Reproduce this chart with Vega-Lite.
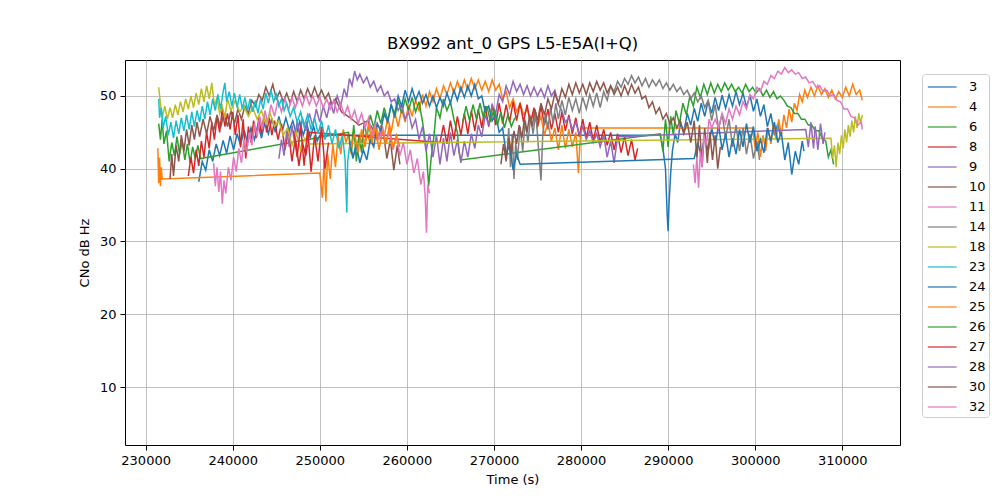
{
"$schema":"https://vega.github.io/schema/vega-lite/v6.json",
"width":775,"height":385,
"autosize":{"type":"none"},
"padding":{"left":125,"top":60,"right":100,"bottom":55},
"background":"white",
"title":{"text":"BX992 ant_0 GPS L5-E5A(I+Q)","font":"DejaVu Sans","fontSize":16.5,"fontWeight":"normal","color":"black","offset":8},
"data":{"values":[
{"s":3,"t":236100,"v":38.2},{"s":3,"t":236500,"v":41.0},{"s":3,"t":236900,"v":39.8},{"s":3,"t":237300,"v":42.6},{"s":3,"t":237700,"v":41.0},{"s":3,"t":238100,"v":43.4},{"s":3,"t":238500,"v":41.8},{"s":3,"t":238900,"v":43.9},{"s":3,"t":239300,"v":42.1},{"s":3,"t":239700,"v":44.5},{"s":3,"t":240100,"v":42.6},{"s":3,"t":240500,"v":44.8},{"s":3,"t":240900,"v":43.2},{"s":3,"t":241300,"v":45.3},{"s":3,"t":241700,"v":43.6},{"s":3,"t":242100,"v":45.6},{"s":3,"t":242500,"v":44.0},{"s":3,"t":242900,"v":46.1},{"s":3,"t":243300,"v":44.2},{"s":3,"t":243700,"v":46.4},{"s":3,"t":244100,"v":44.8},{"s":3,"t":244500,"v":46.9},{"s":3,"t":244900,"v":45.0},{"s":3,"t":245300,"v":47.2},{"s":3,"t":245700,"v":45.2},{"s":3,"t":246100,"v":47.0},{"s":3,"t":246500,"v":45.3},{"s":3,"t":246900,"v":46.6},{"s":3,"t":247300,"v":44.7},{"s":3,"t":247700,"v":46.5},{"s":3,"t":248100,"v":44.6},{"s":3,"t":248500,"v":46.2},{"s":3,"t":248900,"v":44.3},{"s":3,"t":249300,"v":45.8},{"s":3,"t":249700,"v":43.8},{"s":3,"t":250000,"v":44.6},
{"s":3,"t":289100,"v":44.6},{"s":3,"t":289400,"v":42.8},{"s":3,"t":289700,"v":40.0},{"s":3,"t":289900,"v":33.5},{"s":3,"t":290000,"v":31.4},{"s":3,"t":290100,"v":35.0},{"s":3,"t":290300,"v":39.5},{"s":3,"t":290500,"v":42.5},{"s":3,"t":290800,"v":44.8},{"s":3,"t":291100,"v":43.6},{"s":3,"t":291400,"v":46.2},{"s":3,"t":291800,"v":45.0},{"s":3,"t":292200,"v":47.6},{"s":3,"t":292600,"v":46.0},{"s":3,"t":293000,"v":48.3},{"s":3,"t":293400,"v":46.5},{"s":3,"t":293800,"v":49.0},{"s":3,"t":294200,"v":47.2},{"s":3,"t":294600,"v":49.3},{"s":3,"t":295000,"v":47.6},{"s":3,"t":295400,"v":49.8},{"s":3,"t":295800,"v":48.0},{"s":3,"t":296200,"v":50.1},{"s":3,"t":296600,"v":48.3},{"s":3,"t":297000,"v":50.2},{"s":3,"t":297400,"v":48.6},{"s":3,"t":297800,"v":50.6},{"s":3,"t":298200,"v":48.8},{"s":3,"t":298600,"v":50.4},{"s":3,"t":299000,"v":48.5},{"s":3,"t":299400,"v":50.1},{"s":3,"t":299800,"v":47.9},{"s":3,"t":300200,"v":49.6},{"s":3,"t":300600,"v":47.2},{"s":3,"t":301000,"v":48.8},{"s":3,"t":301400,"v":45.8},{"s":3,"t":301800,"v":47.6},{"s":3,"t":302200,"v":44.6},{"s":3,"t":302600,"v":46.2},{"s":3,"t":302900,"v":44.5},
{"s":4,"t":231400,"v":42.8},{"s":4,"t":231500,"v":38.0},{"s":4,"t":231600,"v":41.5},{"s":4,"t":231700,"v":37.6},{"s":4,"t":231800,"v":40.2},{"s":4,"t":231900,"v":38.6},
{"s":4,"t":250000,"v":39.4},{"s":4,"t":250300,"v":36.0},{"s":4,"t":250500,"v":41.2},{"s":4,"t":250700,"v":35.5},{"s":4,"t":250900,"v":42.0},{"s":4,"t":251200,"v":38.6},{"s":4,"t":251500,"v":43.4},{"s":4,"t":251800,"v":40.2},{"s":4,"t":252100,"v":44.6},{"s":4,"t":252400,"v":42.0},{"s":4,"t":252700,"v":45.4},{"s":4,"t":253000,"v":43.6},{"s":4,"t":253300,"v":44.8},{"s":4,"t":253600,"v":42.0},{"s":4,"t":253900,"v":45.2},{"s":4,"t":254200,"v":43.0},{"s":4,"t":254600,"v":44.6},{"s":4,"t":255000,"v":42.8},{"s":4,"t":255400,"v":45.0},{"s":4,"t":255800,"v":43.4},{"s":4,"t":256200,"v":45.6},{"s":4,"t":256600,"v":43.8},{"s":4,"t":257000,"v":46.0},{"s":4,"t":257400,"v":44.4},{"s":4,"t":257800,"v":47.0},{"s":4,"t":258200,"v":45.0},{"s":4,"t":258600,"v":47.8},{"s":4,"t":259000,"v":45.8},{"s":4,"t":259400,"v":48.2},{"s":4,"t":259800,"v":46.4},{"s":4,"t":260200,"v":48.8},{"s":4,"t":260600,"v":47.2},{"s":4,"t":261000,"v":49.4},{"s":4,"t":261400,"v":48.0},{"s":4,"t":261800,"v":50.2},{"s":4,"t":262200,"v":48.6},{"s":4,"t":262600,"v":50.6},{"s":4,"t":263000,"v":49.2},{"s":4,"t":263400,"v":51.0},{"s":4,"t":263800,"v":49.6},{"s":4,"t":264200,"v":51.4},{"s":4,"t":264600,"v":50.2},{"s":4,"t":265000,"v":51.8},{"s":4,"t":265400,"v":50.4},{"s":4,"t":265800,"v":52.0},{"s":4,"t":266200,"v":50.6},{"s":4,"t":266600,"v":52.2},{"s":4,"t":267000,"v":50.8},{"s":4,"t":267400,"v":52.4},{"s":4,"t":267800,"v":51.0},{"s":4,"t":268200,"v":52.2},{"s":4,"t":268600,"v":50.8},{"s":4,"t":269000,"v":52.0},{"s":4,"t":269400,"v":50.6},{"s":4,"t":269800,"v":52.2},{"s":4,"t":270200,"v":50.8},{"s":4,"t":270600,"v":51.6},{"s":4,"t":271000,"v":49.6},{"s":4,"t":271400,"v":50.6},{"s":4,"t":271800,"v":48.4},{"s":4,"t":272200,"v":49.6},{"s":4,"t":272600,"v":47.8},{"s":4,"t":273000,"v":49.0},{"s":4,"t":273400,"v":47.4},{"s":4,"t":273800,"v":48.2},{"s":4,"t":274200,"v":46.6},{"s":4,"t":274600,"v":48.0},{"s":4,"t":275000,"v":45.8},{"s":4,"t":275400,"v":47.2},{"s":4,"t":275800,"v":44.6},{"s":4,"t":276200,"v":46.4},{"s":4,"t":276600,"v":43.8},{"s":4,"t":277000,"v":45.6},{"s":4,"t":277400,"v":42.6},{"s":4,"t":277800,"v":46.0},{"s":4,"t":278200,"v":42.8},{"s":4,"t":278600,"v":45.4},{"s":4,"t":279000,"v":43.0},{"s":4,"t":279400,"v":45.0},{"s":4,"t":279700,"v":39.4},{"s":4,"t":279900,"v":44.0},{"s":4,"t":280100,"v":45.6},
{"s":4,"t":299700,"v":45.6},{"s":4,"t":300000,"v":42.8},{"s":4,"t":300300,"v":45.0},{"s":4,"t":300600,"v":41.6},{"s":4,"t":300900,"v":44.6},{"s":4,"t":301200,"v":42.4},{"s":4,"t":301500,"v":45.6},{"s":4,"t":301800,"v":43.4},{"s":4,"t":302100,"v":46.2},{"s":4,"t":302400,"v":44.0},{"s":4,"t":302700,"v":46.8},{"s":4,"t":303000,"v":44.6},{"s":4,"t":303300,"v":47.4},{"s":4,"t":303600,"v":45.6},{"s":4,"t":303900,"v":48.2},{"s":4,"t":304200,"v":46.4},{"s":4,"t":304500,"v":49.0},{"s":4,"t":304800,"v":48.0},{"s":4,"t":305100,"v":50.2},{"s":4,"t":305400,"v":49.2},{"s":4,"t":305700,"v":50.8},{"s":4,"t":306000,"v":49.8},{"s":4,"t":306400,"v":51.2},{"s":4,"t":306800,"v":50.0},{"s":4,"t":307200,"v":51.4},{"s":4,"t":307600,"v":50.2},{"s":4,"t":308000,"v":51.0},{"s":4,"t":308400,"v":49.8},{"s":4,"t":308800,"v":50.8},{"s":4,"t":309200,"v":49.6},{"s":4,"t":309600,"v":50.6},{"s":4,"t":310000,"v":49.8},{"s":4,"t":310400,"v":51.2},{"s":4,"t":310800,"v":50.0},{"s":4,"t":311200,"v":51.6},{"s":4,"t":311600,"v":50.2},{"s":4,"t":312000,"v":50.8},{"s":4,"t":312300,"v":49.4},
{"s":6,"t":231500,"v":46.2},{"s":6,"t":231700,"v":44.0},{"s":6,"t":231900,"v":46.8},{"s":6,"t":232100,"v":43.4},{"s":6,"t":232400,"v":45.2},{"s":6,"t":232700,"v":41.0},{"s":6,"t":233000,"v":43.6},{"s":6,"t":233300,"v":41.8},{"s":6,"t":233600,"v":44.4},{"s":6,"t":233900,"v":42.0},{"s":6,"t":234200,"v":43.8},{"s":6,"t":234500,"v":41.2},{"s":6,"t":234800,"v":43.4},{"s":6,"t":235100,"v":40.8},{"s":6,"t":235400,"v":43.0},{"s":6,"t":235700,"v":41.4},{"s":6,"t":236000,"v":43.2},{"s":6,"t":236300,"v":41.4},
{"s":6,"t":253300,"v":45.0},{"s":6,"t":253600,"v":42.4},{"s":6,"t":253900,"v":46.0},{"s":6,"t":254200,"v":41.0},{"s":6,"t":254500,"v":44.6},{"s":6,"t":254800,"v":42.2},{"s":6,"t":255100,"v":46.6},{"s":6,"t":255400,"v":44.2},{"s":6,"t":255800,"v":47.4},{"s":6,"t":256200,"v":45.6},{"s":6,"t":256600,"v":48.0},{"s":6,"t":257000,"v":46.2},{"s":6,"t":257400,"v":48.4},{"s":6,"t":257800,"v":46.6},{"s":6,"t":258200,"v":48.8},{"s":6,"t":258600,"v":47.0},{"s":6,"t":259000,"v":49.4},{"s":6,"t":259400,"v":47.6},{"s":6,"t":259800,"v":49.6},{"s":6,"t":260200,"v":48.0},{"s":6,"t":260600,"v":49.8},{"s":6,"t":261000,"v":47.8},{"s":6,"t":261400,"v":49.2},{"s":6,"t":261800,"v":46.4},{"s":6,"t":262200,"v":43.0},{"s":6,"t":262500,"v":37.6},{"s":6,"t":262800,"v":41.6},{"s":6,"t":263100,"v":44.4},{"s":6,"t":263400,"v":48.4},{"s":6,"t":263800,"v":47.0},{"s":6,"t":264200,"v":49.6},{"s":6,"t":264600,"v":48.0},{"s":6,"t":265000,"v":49.2},{"s":6,"t":265400,"v":46.8},{"s":6,"t":265800,"v":45.0},{"s":6,"t":266000,"v":42.2},{"s":6,"t":266200,"v":41.2},
{"s":6,"t":289100,"v":44.8},{"s":6,"t":289400,"v":42.4},{"s":6,"t":289700,"v":46.8},{"s":6,"t":290000,"v":43.0},{"s":6,"t":290300,"v":47.2},{"s":6,"t":290600,"v":44.6},{"s":6,"t":290900,"v":48.0},{"s":6,"t":291300,"v":46.2},{"s":6,"t":291700,"v":49.0},{"s":6,"t":292100,"v":47.4},{"s":6,"t":292500,"v":50.0},{"s":6,"t":292900,"v":48.6},{"s":6,"t":293300,"v":51.2},{"s":6,"t":293700,"v":49.8},{"s":6,"t":294100,"v":51.6},{"s":6,"t":294500,"v":50.2},{"s":6,"t":294900,"v":51.8},{"s":6,"t":295300,"v":50.4},{"s":6,"t":295700,"v":51.6},{"s":6,"t":296100,"v":50.6},{"s":6,"t":296500,"v":51.8},{"s":6,"t":296900,"v":50.8},{"s":6,"t":297300,"v":51.6},{"s":6,"t":297700,"v":50.6},{"s":6,"t":298100,"v":51.2},{"s":6,"t":298500,"v":50.4},{"s":6,"t":298900,"v":51.6},{"s":6,"t":299300,"v":50.6},{"s":6,"t":299700,"v":51.2},{"s":6,"t":300100,"v":50.4},{"s":6,"t":300500,"v":51.0},{"s":6,"t":300900,"v":50.0},{"s":6,"t":301300,"v":50.8},{"s":6,"t":301700,"v":49.8},{"s":6,"t":302100,"v":50.6},{"s":6,"t":302500,"v":49.6},{"s":6,"t":302900,"v":50.0},{"s":6,"t":303300,"v":49.4},{"s":6,"t":303700,"v":48.6},{"s":6,"t":304100,"v":48.4},{"s":6,"t":304500,"v":47.6},{"s":6,"t":304900,"v":47.6},{"s":6,"t":305300,"v":46.8},{"s":6,"t":305700,"v":46.8},{"s":6,"t":306100,"v":46.0},{"s":6,"t":306500,"v":46.0},{"s":6,"t":306900,"v":45.2},{"s":6,"t":307300,"v":45.2},{"s":6,"t":307700,"v":44.2},{"s":6,"t":308100,"v":43.8},{"s":6,"t":308400,"v":41.6},{"s":6,"t":308700,"v":42.6},{"s":6,"t":309000,"v":40.6},
{"s":8,"t":234900,"v":39.0},{"s":8,"t":235200,"v":41.6},{"s":8,"t":235500,"v":39.4},{"s":8,"t":235800,"v":42.6},{"s":8,"t":236100,"v":40.4},{"s":8,"t":236400,"v":43.8},{"s":8,"t":236700,"v":41.6},{"s":8,"t":237000,"v":45.0},{"s":8,"t":237300,"v":42.8},{"s":8,"t":237600,"v":46.4},{"s":8,"t":237900,"v":44.0},{"s":8,"t":238200,"v":47.2},{"s":8,"t":238500,"v":45.0},{"s":8,"t":238800,"v":48.2},{"s":8,"t":239100,"v":45.8},{"s":8,"t":239400,"v":47.6},{"s":8,"t":239700,"v":45.4},{"s":8,"t":240000,"v":47.8},{"s":8,"t":240300,"v":44.6},{"s":8,"t":240600,"v":47.4},{"s":8,"t":240900,"v":43.0},{"s":8,"t":241200,"v":46.8},{"s":8,"t":241500,"v":41.4},{"s":8,"t":241800,"v":45.8},{"s":8,"t":242100,"v":43.6},{"s":8,"t":242400,"v":46.6},{"s":8,"t":242700,"v":44.2},{"s":8,"t":243000,"v":47.0},{"s":8,"t":243300,"v":44.8},{"s":8,"t":243600,"v":47.4},{"s":8,"t":243900,"v":45.0},{"s":8,"t":244200,"v":47.0},{"s":8,"t":244500,"v":44.6},{"s":8,"t":244800,"v":46.6},{"s":8,"t":245200,"v":44.0},{"s":8,"t":245600,"v":46.2},{"s":8,"t":246000,"v":42.6},{"s":8,"t":246400,"v":45.4},{"s":8,"t":246800,"v":41.0},{"s":8,"t":247200,"v":44.2},{"s":8,"t":247600,"v":40.4},{"s":8,"t":248000,"v":43.6},{"s":8,"t":248400,"v":41.8},{"s":8,"t":248800,"v":45.0},
{"s":8,"t":263800,"v":43.6},{"s":8,"t":264200,"v":46.0},{"s":8,"t":264600,"v":43.4},{"s":8,"t":265000,"v":46.6},{"s":8,"t":265400,"v":44.0},{"s":8,"t":265800,"v":47.2},{"s":8,"t":266200,"v":44.6},{"s":8,"t":266600,"v":47.6},{"s":8,"t":267000,"v":44.8},{"s":8,"t":267400,"v":48.0},{"s":8,"t":267800,"v":45.2},{"s":8,"t":268200,"v":48.2},{"s":8,"t":268600,"v":45.6},{"s":8,"t":269000,"v":48.6},{"s":8,"t":269400,"v":45.8},{"s":8,"t":269800,"v":48.8},{"s":8,"t":270200,"v":46.0},{"s":8,"t":270600,"v":49.0},{"s":8,"t":271000,"v":46.2},{"s":8,"t":271400,"v":48.8},{"s":8,"t":271800,"v":46.4},{"s":8,"t":272200,"v":49.2},{"s":8,"t":272600,"v":46.6},{"s":8,"t":273000,"v":49.0},{"s":8,"t":273400,"v":46.4},{"s":8,"t":273800,"v":48.8},{"s":8,"t":274200,"v":46.2},{"s":8,"t":274600,"v":48.4},{"s":8,"t":275000,"v":45.8},{"s":8,"t":275400,"v":48.6},{"s":8,"t":275800,"v":46.0},{"s":8,"t":276200,"v":48.2},{"s":8,"t":276600,"v":45.4},{"s":8,"t":277000,"v":47.6},{"s":8,"t":277400,"v":45.0},{"s":8,"t":277800,"v":47.8},{"s":8,"t":278200,"v":45.2},{"s":8,"t":278600,"v":47.4},{"s":8,"t":279000,"v":44.8},{"s":8,"t":279400,"v":47.0},{"s":8,"t":279800,"v":44.4},{"s":8,"t":280200,"v":46.8},{"s":8,"t":280600,"v":44.2},{"s":8,"t":281000,"v":46.4},{"s":8,"t":281400,"v":43.8},{"s":8,"t":281800,"v":46.0},{"s":8,"t":282200,"v":43.6},{"s":8,"t":282600,"v":45.4},{"s":8,"t":283000,"v":43.2},{"s":8,"t":283400,"v":45.0},{"s":8,"t":283800,"v":42.6},{"s":8,"t":284200,"v":44.8},{"s":8,"t":284600,"v":42.2},{"s":8,"t":285000,"v":44.4},{"s":8,"t":285400,"v":41.8},{"s":8,"t":285800,"v":44.0},{"s":8,"t":286200,"v":41.2},{"s":8,"t":286500,"v":42.8},
{"s":9,"t":245300,"v":41.4},{"s":9,"t":245600,"v":44.0},{"s":9,"t":245900,"v":41.8},{"s":9,"t":246200,"v":45.2},{"s":9,"t":246500,"v":43.0},{"s":9,"t":246800,"v":46.0},{"s":9,"t":247100,"v":43.6},{"s":9,"t":247400,"v":46.6},{"s":9,"t":247700,"v":44.4},{"s":9,"t":248000,"v":47.0},{"s":9,"t":248400,"v":45.2},{"s":9,"t":248800,"v":47.6},{"s":9,"t":249200,"v":45.8},{"s":9,"t":249600,"v":48.2},{"s":9,"t":250000,"v":46.4},{"s":9,"t":250400,"v":48.6},{"s":9,"t":250800,"v":47.0},{"s":9,"t":251200,"v":49.2},{"s":9,"t":251600,"v":47.6},{"s":9,"t":252000,"v":50.0},{"s":9,"t":252400,"v":48.6},{"s":9,"t":252800,"v":51.0},{"s":9,"t":253100,"v":49.8},{"s":9,"t":253400,"v":52.4},{"s":9,"t":253700,"v":51.4},{"s":9,"t":254000,"v":53.4},{"s":9,"t":254300,"v":52.2},{"s":9,"t":254600,"v":53.0},{"s":9,"t":255000,"v":51.8},{"s":9,"t":255400,"v":52.6},{"s":9,"t":255800,"v":51.2},{"s":9,"t":256200,"v":52.0},{"s":9,"t":256600,"v":50.6},{"s":9,"t":257000,"v":51.4},{"s":9,"t":257400,"v":50.0},{"s":9,"t":257800,"v":50.6},{"s":9,"t":258200,"v":49.2},{"s":9,"t":258600,"v":49.6},{"s":9,"t":259000,"v":48.0},{"s":9,"t":259400,"v":48.8},{"s":9,"t":259800,"v":46.8},{"s":9,"t":260200,"v":47.8},{"s":9,"t":260600,"v":45.6},{"s":9,"t":261000,"v":46.8},{"s":9,"t":261400,"v":44.0},{"s":9,"t":261800,"v":45.8},{"s":9,"t":262200,"v":42.4},{"s":9,"t":262600,"v":44.8},{"s":9,"t":263000,"v":41.6},{"s":9,"t":263400,"v":44.6},{"s":9,"t":263800,"v":40.6},{"s":9,"t":264200,"v":44.2},{"s":9,"t":264600,"v":41.0},{"s":9,"t":265000,"v":45.0},{"s":9,"t":265400,"v":41.8},{"s":9,"t":265800,"v":44.0},{"s":9,"t":266200,"v":40.8},{"s":9,"t":266600,"v":43.8},{"s":9,"t":267000,"v":41.6},{"s":9,"t":267400,"v":44.8},{"s":9,"t":267800,"v":42.8},{"s":9,"t":268200,"v":46.0},{"s":9,"t":268600,"v":44.4},{"s":9,"t":269000,"v":47.4},{"s":9,"t":269400,"v":46.0},{"s":9,"t":269800,"v":48.8},{"s":9,"t":270200,"v":47.6},{"s":9,"t":270600,"v":50.2},{"s":9,"t":271000,"v":49.2},{"s":9,"t":271400,"v":51.4},{"s":9,"t":271800,"v":50.2},{"s":9,"t":272200,"v":52.0},{"s":9,"t":272600,"v":50.6},{"s":9,"t":273000,"v":51.6},{"s":9,"t":273400,"v":50.2},{"s":9,"t":273800,"v":51.4},{"s":9,"t":274200,"v":50.0},{"s":9,"t":274600,"v":51.2},{"s":9,"t":275000,"v":50.0},{"s":9,"t":275400,"v":51.0},{"s":9,"t":275800,"v":49.8},{"s":9,"t":276200,"v":51.4},{"s":9,"t":276600,"v":50.0},{"s":9,"t":277000,"v":50.8},{"s":9,"t":277400,"v":48.8},{"s":9,"t":277800,"v":48.0},{"s":9,"t":278200,"v":46.4},{"s":9,"t":278600,"v":47.0},{"s":9,"t":279000,"v":45.4},{"s":9,"t":279400,"v":46.4},{"s":9,"t":279800,"v":44.6},{"s":9,"t":280200,"v":45.8},{"s":9,"t":280600,"v":44.0},{"s":9,"t":281000,"v":45.2},{"s":9,"t":281400,"v":43.6},{"s":9,"t":281800,"v":44.8},{"s":9,"t":282200,"v":43.0},{"s":9,"t":282600,"v":44.6},{"s":9,"t":283000,"v":41.6},{"s":9,"t":283400,"v":43.8},{"s":9,"t":283800,"v":40.8},{"s":9,"t":284200,"v":44.4},
{"s":9,"t":305800,"v":45.4},{"s":9,"t":306100,"v":43.0},{"s":9,"t":306400,"v":46.4},{"s":9,"t":306700,"v":42.8},{"s":9,"t":306900,"v":45.8},
{"s":10,"t":232800,"v":38.6},{"s":10,"t":233000,"v":42.0},{"s":10,"t":233200,"v":39.0},{"s":10,"t":233500,"v":43.2},{"s":10,"t":233800,"v":41.0},{"s":10,"t":234100,"v":44.6},{"s":10,"t":234400,"v":42.4},{"s":10,"t":234700,"v":45.4},{"s":10,"t":235000,"v":43.2},{"s":10,"t":235300,"v":46.0},{"s":10,"t":235600,"v":44.0},{"s":10,"t":235900,"v":46.4},{"s":10,"t":236200,"v":44.4},{"s":10,"t":236600,"v":46.8},{"s":10,"t":237000,"v":44.8},{"s":10,"t":237400,"v":47.2},{"s":10,"t":237800,"v":45.2},{"s":10,"t":238200,"v":47.4},{"s":10,"t":238600,"v":45.6},{"s":10,"t":239000,"v":47.6},{"s":10,"t":239400,"v":45.8},{"s":10,"t":239800,"v":48.0},{"s":10,"t":240200,"v":46.2},{"s":10,"t":240600,"v":48.2},{"s":10,"t":241000,"v":46.8},{"s":10,"t":241400,"v":48.6},{"s":10,"t":241800,"v":47.6},{"s":10,"t":242200,"v":49.4},{"s":10,"t":242600,"v":48.6},{"s":10,"t":243000,"v":50.2},{"s":10,"t":243400,"v":49.4},{"s":10,"t":243800,"v":51.2},{"s":10,"t":244200,"v":50.0},{"s":10,"t":244600,"v":51.6},{"s":10,"t":245000,"v":49.6},{"s":10,"t":245400,"v":50.6},{"s":10,"t":245800,"v":49.2},{"s":10,"t":246200,"v":50.4},{"s":10,"t":246600,"v":49.0},{"s":10,"t":247000,"v":50.6},{"s":10,"t":247400,"v":49.2},{"s":10,"t":247800,"v":50.8},{"s":10,"t":248200,"v":49.6},{"s":10,"t":248600,"v":51.0},{"s":10,"t":249000,"v":49.8},{"s":10,"t":249400,"v":51.2},{"s":10,"t":249800,"v":49.8},{"s":10,"t":250200,"v":50.8},{"s":10,"t":250600,"v":49.6},{"s":10,"t":251000,"v":50.4},{"s":10,"t":251400,"v":48.8},{"s":10,"t":251800,"v":49.6},{"s":10,"t":252500,"v":47.8},{"s":10,"t":253500,"v":47.0},{"s":10,"t":254500,"v":46.0},{"s":10,"t":255500,"v":46.6},{"s":10,"t":256500,"v":44.6},{"s":10,"t":257300,"v":45.0},{"s":10,"t":257700,"v":41.4},{"s":10,"t":258100,"v":44.0},{"s":10,"t":258500,"v":39.8},{"s":10,"t":258900,"v":43.2},{"s":10,"t":259200,"v":40.6},
{"s":11,"t":237800,"v":40.8},{"s":11,"t":238000,"v":37.6},{"s":11,"t":238200,"v":40.2},{"s":11,"t":238400,"v":36.8},{"s":11,"t":238600,"v":39.6},{"s":11,"t":238800,"v":35.2},{"s":11,"t":239000,"v":38.4},{"s":11,"t":239200,"v":36.6},{"s":11,"t":239500,"v":40.2},{"s":11,"t":239800,"v":38.4},{"s":11,"t":240100,"v":41.6},{"s":11,"t":240400,"v":39.6},{"s":11,"t":240700,"v":42.8},{"s":11,"t":241000,"v":40.8},{"s":11,"t":241300,"v":44.0},{"s":11,"t":241600,"v":42.2},{"s":11,"t":241900,"v":45.0},{"s":11,"t":242200,"v":43.2},{"s":11,"t":242500,"v":46.2},{"s":11,"t":242800,"v":44.4},{"s":11,"t":243100,"v":47.2},{"s":11,"t":243400,"v":45.4},{"s":11,"t":243700,"v":48.0},{"s":11,"t":244000,"v":46.4},{"s":11,"t":244400,"v":48.8},{"s":11,"t":244800,"v":47.2},{"s":11,"t":245200,"v":49.4},{"s":11,"t":245600,"v":47.8},{"s":11,"t":246000,"v":49.6},{"s":11,"t":246400,"v":48.0},{"s":11,"t":246800,"v":49.8},{"s":11,"t":247200,"v":48.4},{"s":11,"t":247600,"v":50.0},{"s":11,"t":248000,"v":48.6},{"s":11,"t":248400,"v":50.2},{"s":11,"t":248800,"v":48.8},{"s":11,"t":249200,"v":50.0},{"s":11,"t":249600,"v":48.6},{"s":11,"t":250000,"v":49.8},{"s":11,"t":250400,"v":48.4},{"s":11,"t":250800,"v":49.6},{"s":11,"t":251200,"v":48.2},{"s":11,"t":251600,"v":49.4},{"s":11,"t":252000,"v":47.8},{"s":11,"t":252400,"v":49.0},{"s":11,"t":252800,"v":47.4},{"s":11,"t":253200,"v":48.6},{"s":11,"t":253600,"v":46.8},{"s":11,"t":254000,"v":48.0},{"s":11,"t":254400,"v":46.2},{"s":11,"t":254800,"v":47.6},{"s":11,"t":255200,"v":45.6},{"s":11,"t":255600,"v":47.0},{"s":11,"t":256000,"v":44.6},{"s":11,"t":256400,"v":46.4},{"s":11,"t":256800,"v":44.0},{"s":11,"t":257200,"v":45.8},{"s":11,"t":257600,"v":43.4},{"s":11,"t":258000,"v":45.2},{"s":11,"t":258400,"v":42.6},{"s":11,"t":258800,"v":44.4},{"s":11,"t":259200,"v":41.8},{"s":11,"t":259600,"v":43.6},{"s":11,"t":260000,"v":40.6},{"s":11,"t":260400,"v":42.6},{"s":11,"t":260800,"v":39.4},{"s":11,"t":261200,"v":41.4},{"s":11,"t":261600,"v":37.8},{"s":11,"t":261900,"v":39.6},{"s":11,"t":262100,"v":36.2},{"s":11,"t":262250,"v":31.2},{"s":11,"t":262400,"v":37.8},{"s":11,"t":262600,"v":36.6},
{"s":14,"t":271500,"v":42.0},{"s":14,"t":271700,"v":45.6},{"s":14,"t":271900,"v":40.2},{"s":14,"t":272100,"v":44.8},{"s":14,"t":272300,"v":38.6},{"s":14,"t":272500,"v":43.6},{"s":14,"t":272700,"v":41.2},{"s":14,"t":273000,"v":45.8},{"s":14,"t":273300,"v":42.4},{"s":14,"t":273600,"v":46.6},{"s":14,"t":273900,"v":43.6},{"s":14,"t":274200,"v":47.0},{"s":14,"t":274500,"v":44.8},{"s":14,"t":274800,"v":47.8},{"s":14,"t":275100,"v":43.0},{"s":14,"t":275400,"v":38.4},{"s":14,"t":275600,"v":44.6},{"s":14,"t":275900,"v":47.6},{"s":14,"t":276200,"v":45.4},{"s":14,"t":276500,"v":48.4},{"s":14,"t":276800,"v":46.2},{"s":14,"t":277100,"v":49.0},{"s":14,"t":277400,"v":46.8},{"s":14,"t":277800,"v":49.4},{"s":14,"t":278200,"v":47.4},{"s":14,"t":278600,"v":49.8},{"s":14,"t":279000,"v":48.0},{"s":14,"t":279400,"v":49.6},{"s":14,"t":279800,"v":47.6},{"s":14,"t":280200,"v":49.8},{"s":14,"t":280600,"v":48.2},{"s":14,"t":281000,"v":50.2},{"s":14,"t":281400,"v":48.6},{"s":14,"t":281800,"v":50.4},{"s":14,"t":282200,"v":48.4},{"s":14,"t":282600,"v":50.6},{"s":14,"t":283000,"v":49.4},{"s":14,"t":283400,"v":51.4},{"s":14,"t":283800,"v":50.6},{"s":14,"t":284200,"v":52.0},{"s":14,"t":284600,"v":51.2},{"s":14,"t":285000,"v":52.4},{"s":14,"t":285400,"v":51.6},{"s":14,"t":285800,"v":52.8},{"s":14,"t":286200,"v":51.8},{"s":14,"t":286600,"v":52.6},{"s":14,"t":287000,"v":51.4},{"s":14,"t":287400,"v":52.4},{"s":14,"t":287800,"v":51.2},{"s":14,"t":288200,"v":52.2},{"s":14,"t":288600,"v":51.4},{"s":14,"t":289000,"v":52.2},{"s":14,"t":289400,"v":51.0},{"s":14,"t":289800,"v":51.8},{"s":14,"t":290200,"v":50.8},{"s":14,"t":290600,"v":51.6},{"s":14,"t":291000,"v":50.6},{"s":14,"t":291400,"v":51.2},{"s":14,"t":291800,"v":50.2},{"s":14,"t":292200,"v":50.8},{"s":14,"t":292600,"v":49.6},{"s":14,"t":293000,"v":50.4},{"s":14,"t":293400,"v":49.2},{"s":14,"t":293800,"v":50.0},{"s":14,"t":294200,"v":48.4},{"s":14,"t":294600,"v":49.4},{"s":14,"t":295000,"v":46.6},{"s":14,"t":295400,"v":48.8},{"s":14,"t":295800,"v":45.4},{"s":14,"t":296200,"v":47.6},{"s":14,"t":296600,"v":44.2},{"s":14,"t":297000,"v":46.8},{"s":14,"t":297400,"v":43.0},{"s":14,"t":297800,"v":46.0},{"s":14,"t":298200,"v":42.4},{"s":14,"t":298600,"v":45.6},{"s":14,"t":299000,"v":42.0},{"s":14,"t":299400,"v":44.8},{"s":14,"t":299800,"v":41.4},{"s":14,"t":300200,"v":43.8},{"s":14,"t":300500,"v":41.2},
{"s":18,"t":231500,"v":51.2},{"s":18,"t":231700,"v":49.0},{"s":18,"t":231900,"v":47.0},{"s":18,"t":232200,"v":48.6},{"s":18,"t":232500,"v":46.8},{"s":18,"t":232800,"v":48.4},{"s":18,"t":233100,"v":47.0},{"s":18,"t":233400,"v":48.8},{"s":18,"t":233700,"v":47.4},{"s":18,"t":234000,"v":49.2},{"s":18,"t":234300,"v":47.8},{"s":18,"t":234600,"v":49.6},{"s":18,"t":234900,"v":48.2},{"s":18,"t":235200,"v":50.0},{"s":18,"t":235500,"v":48.4},{"s":18,"t":235800,"v":50.4},{"s":18,"t":236100,"v":48.8},{"s":18,"t":236400,"v":51.0},{"s":18,"t":236700,"v":49.2},{"s":18,"t":237000,"v":51.4},{"s":18,"t":237300,"v":49.6},{"s":18,"t":237600,"v":51.8},{"s":18,"t":237900,"v":48.6},{"s":18,"t":238200,"v":49.8},{"s":18,"t":238500,"v":47.6},{"s":18,"t":238800,"v":48.6},{"s":18,"t":239100,"v":47.0},{"s":18,"t":239400,"v":49.6},{"s":18,"t":239800,"v":48.0},{"s":18,"t":240300,"v":49.4},{"s":18,"t":240800,"v":47.8},{"s":18,"t":241300,"v":48.6},{"s":18,"t":241800,"v":47.2},{"s":18,"t":242300,"v":48.4},{"s":18,"t":242800,"v":46.8},{"s":18,"t":243300,"v":48.0},{"s":18,"t":243800,"v":46.2},{"s":18,"t":244300,"v":47.6},{"s":18,"t":244800,"v":45.8},{"s":18,"t":245300,"v":46.6},{"s":18,"t":245800,"v":44.6},{"s":18,"t":246300,"v":45.6},{"s":18,"t":246800,"v":43.2},{"s":18,"t":247300,"v":45.0},{"s":18,"t":247800,"v":42.6},{"s":18,"t":248300,"v":44.2},{"s":18,"t":248600,"v":43.4},
{"s":18,"t":308700,"v":44.2},{"s":18,"t":308900,"v":41.4},{"s":18,"t":309100,"v":43.2},{"s":18,"t":309300,"v":40.2},{"s":18,"t":309500,"v":43.6},{"s":18,"t":309700,"v":42.0},{"s":18,"t":309900,"v":44.6},{"s":18,"t":310100,"v":42.8},{"s":18,"t":310300,"v":45.4},{"s":18,"t":310500,"v":43.6},{"s":18,"t":310700,"v":46.0},{"s":18,"t":310900,"v":44.4},{"s":18,"t":311100,"v":46.6},{"s":18,"t":311300,"v":45.0},{"s":18,"t":311500,"v":47.2},{"s":18,"t":311700,"v":45.6},{"s":18,"t":311900,"v":47.6},{"s":18,"t":312100,"v":46.2},{"s":18,"t":312300,"v":47.4},
{"s":23,"t":231500,"v":49.6},{"s":23,"t":231600,"v":47.0},{"s":23,"t":231800,"v":48.4},{"s":23,"t":232000,"v":45.6},{"s":23,"t":232300,"v":47.2},{"s":23,"t":232600,"v":44.6},{"s":23,"t":232900,"v":46.4},{"s":23,"t":233200,"v":44.2},{"s":23,"t":233500,"v":46.6},{"s":23,"t":233800,"v":44.8},{"s":23,"t":234100,"v":47.0},{"s":23,"t":234400,"v":45.2},{"s":23,"t":234700,"v":47.4},{"s":23,"t":235000,"v":45.4},{"s":23,"t":235300,"v":47.8},{"s":23,"t":235600,"v":45.8},{"s":23,"t":235900,"v":48.0},{"s":23,"t":236200,"v":46.4},{"s":23,"t":236500,"v":48.6},{"s":23,"t":236800,"v":46.8},{"s":23,"t":237100,"v":49.2},{"s":23,"t":237400,"v":47.4},{"s":23,"t":237700,"v":49.6},{"s":23,"t":238000,"v":48.0},{"s":23,"t":238300,"v":50.2},{"s":23,"t":238600,"v":48.2},{"s":23,"t":238900,"v":50.6},{"s":23,"t":239100,"v":51.8},{"s":23,"t":239300,"v":49.2},{"s":23,"t":239600,"v":50.6},{"s":23,"t":239900,"v":48.6},{"s":23,"t":240200,"v":50.4},{"s":23,"t":240500,"v":48.4},{"s":23,"t":240800,"v":50.2},{"s":23,"t":241100,"v":48.2},{"s":23,"t":241400,"v":49.8},{"s":23,"t":241700,"v":48.0},{"s":23,"t":242000,"v":49.6},{"s":23,"t":242300,"v":47.8},{"s":23,"t":242600,"v":49.4},{"s":23,"t":242900,"v":47.6},{"s":23,"t":243200,"v":49.6},{"s":23,"t":243500,"v":48.2},{"s":23,"t":243800,"v":50.4},{"s":23,"t":244100,"v":49.0},{"s":23,"t":244400,"v":50.8},{"s":23,"t":244700,"v":49.2},{"s":23,"t":245000,"v":50.2},{"s":23,"t":245300,"v":48.6},{"s":23,"t":245600,"v":49.6},{"s":23,"t":245900,"v":48.0},{"s":23,"t":246200,"v":49.0},{"s":23,"t":246600,"v":47.2},{"s":23,"t":247000,"v":48.4},{"s":23,"t":247400,"v":46.4},{"s":23,"t":247800,"v":47.8},{"s":23,"t":248200,"v":45.8},{"s":23,"t":248600,"v":47.4},{"s":23,"t":249000,"v":45.4},{"s":23,"t":249400,"v":47.0},{"s":23,"t":249800,"v":44.8},{"s":23,"t":250200,"v":46.6},{"s":23,"t":250600,"v":44.0},{"s":23,"t":251000,"v":46.0},{"s":23,"t":251400,"v":43.4},{"s":23,"t":251800,"v":45.4},{"s":23,"t":252200,"v":42.8},{"s":23,"t":252600,"v":44.6},{"s":23,"t":252900,"v":41.4},{"s":23,"t":253100,"v":34.0},{"s":23,"t":253200,"v":41.0},{"s":23,"t":253500,"v":43.8},{"s":23,"t":253800,"v":41.4},{"s":23,"t":254100,"v":43.0},
{"s":24,"t":253400,"v":43.8},{"s":24,"t":253800,"v":41.5},{"s":24,"t":254200,"v":43.2},{"s":24,"t":254600,"v":40.8},{"s":24,"t":255000,"v":42.6},{"s":24,"t":255400,"v":41.2},{"s":24,"t":255800,"v":44.0},{"s":24,"t":256200,"v":43.0},{"s":24,"t":256600,"v":46.2},{"s":24,"t":257000,"v":45.2},{"s":24,"t":257400,"v":47.6},{"s":24,"t":257800,"v":46.4},{"s":24,"t":258200,"v":48.8},{"s":24,"t":258600,"v":47.5},{"s":24,"t":259000,"v":50.0},{"s":24,"t":259400,"v":48.6},{"s":24,"t":259800,"v":50.8},{"s":24,"t":260200,"v":49.2},{"s":24,"t":260600,"v":51.0},{"s":24,"t":261000,"v":49.4},{"s":24,"t":261400,"v":50.6},{"s":24,"t":261800,"v":49.0},{"s":24,"t":262200,"v":50.2},{"s":24,"t":262600,"v":48.6},{"s":24,"t":263000,"v":50.0},{"s":24,"t":263400,"v":48.4},{"s":24,"t":263800,"v":49.8},{"s":24,"t":264200,"v":48.6},{"s":24,"t":264600,"v":50.4},{"s":24,"t":265000,"v":49.0},{"s":24,"t":265400,"v":50.8},{"s":24,"t":265800,"v":49.4},{"s":24,"t":266200,"v":51.2},{"s":24,"t":266600,"v":49.8},{"s":24,"t":267000,"v":51.4},{"s":24,"t":267400,"v":50.0},{"s":24,"t":267800,"v":51.6},{"s":24,"t":268200,"v":49.6},{"s":24,"t":268600,"v":50.0},{"s":24,"t":269000,"v":47.8},{"s":24,"t":269400,"v":48.6},{"s":24,"t":269800,"v":46.6},{"s":24,"t":270200,"v":47.4},{"s":24,"t":270600,"v":45.0},{"s":24,"t":271000,"v":45.6},{"s":24,"t":271400,"v":42.0},{"s":24,"t":271800,"v":43.2},{"s":24,"t":272200,"v":39.8},{"s":24,"t":272600,"v":42.0},{"s":24,"t":273000,"v":40.6},
{"s":24,"t":293000,"v":41.4},{"s":24,"t":293400,"v":43.6},{"s":24,"t":293800,"v":41.8},{"s":24,"t":294200,"v":44.6},{"s":24,"t":294600,"v":42.4},{"s":24,"t":295000,"v":45.6},{"s":24,"t":295400,"v":43.2},{"s":24,"t":295800,"v":46.0},{"s":24,"t":296200,"v":42.6},{"s":24,"t":296600,"v":44.8},{"s":24,"t":297000,"v":41.6},{"s":24,"t":297400,"v":44.2},{"s":24,"t":297800,"v":42.0},{"s":24,"t":298200,"v":45.4},{"s":24,"t":298600,"v":43.0},{"s":24,"t":299000,"v":46.2},{"s":24,"t":299400,"v":43.6},{"s":24,"t":299800,"v":45.8},{"s":24,"t":300200,"v":42.4},{"s":24,"t":300600,"v":44.0},{"s":24,"t":301000,"v":42.2},{"s":24,"t":301400,"v":45.6},{"s":24,"t":301800,"v":43.8},{"s":24,"t":302200,"v":46.4},{"s":24,"t":302600,"v":43.6},{"s":24,"t":303000,"v":45.0},{"s":24,"t":303400,"v":41.2},{"s":24,"t":303800,"v":43.6},{"s":24,"t":304200,"v":39.2},{"s":24,"t":304600,"v":42.4},{"s":24,"t":305000,"v":40.6},{"s":24,"t":305400,"v":43.8},{"s":24,"t":305600,"v":42.4},
{"s":25,"t":253600,"v":43.0},{"s":25,"t":254000,"v":44.8},{"s":25,"t":254400,"v":42.2},{"s":25,"t":254800,"v":45.4},{"s":25,"t":255200,"v":43.0},{"s":25,"t":255600,"v":46.2},{"s":25,"t":256000,"v":43.6},{"s":25,"t":256400,"v":45.8},{"s":25,"t":256800,"v":42.6},{"s":25,"t":257200,"v":45.2},{"s":25,"t":257600,"v":43.4},{"s":25,"t":258000,"v":46.0},{"s":25,"t":258400,"v":42.8},{"s":25,"t":258800,"v":44.6},{"s":25,"t":259200,"v":43.0},
{"s":26,"t":266400,"v":46.4},{"s":26,"t":266800,"v":48.6},{"s":26,"t":267200,"v":46.6},{"s":26,"t":267600,"v":48.8},{"s":26,"t":268000,"v":46.8},{"s":26,"t":268400,"v":49.0},{"s":26,"t":268800,"v":47.0},{"s":26,"t":269200,"v":48.6},{"s":26,"t":269600,"v":46.4},{"s":26,"t":270000,"v":48.2},{"s":26,"t":270400,"v":46.0},{"s":26,"t":270800,"v":47.8},{"s":26,"t":271200,"v":45.6},{"s":26,"t":271600,"v":47.4},{"s":26,"t":272000,"v":45.8},{"s":26,"t":272400,"v":47.0},
{"s":27,"t":247000,"v":45.2},{"s":27,"t":247400,"v":41.6},{"s":27,"t":247800,"v":46.0},{"s":27,"t":248200,"v":40.4},{"s":27,"t":248600,"v":45.4},{"s":27,"t":249000,"v":39.6},{"s":27,"t":249400,"v":44.6},{"s":27,"t":249800,"v":41.0},{"s":27,"t":250200,"v":45.8},{"s":27,"t":250600,"v":40.0},{"s":27,"t":251000,"v":43.6},
{"s":28,"t":306900,"v":45.8},{"s":28,"t":307200,"v":42.6},{"s":28,"t":307500,"v":46.2},{"s":28,"t":307800,"v":43.4},{"s":28,"t":308000,"v":45.0},
{"s":30,"t":270800,"v":40.6},{"s":30,"t":271100,"v":43.4},{"s":30,"t":271400,"v":41.0},{"s":30,"t":271700,"v":44.2},{"s":30,"t":272000,"v":42.2},{"s":30,"t":272300,"v":45.2},{"s":30,"t":272600,"v":43.4},{"s":30,"t":272900,"v":46.0},{"s":30,"t":273200,"v":44.2},{"s":30,"t":273500,"v":46.8},{"s":30,"t":273800,"v":45.0},{"s":30,"t":274100,"v":47.4},{"s":30,"t":274400,"v":45.8},{"s":30,"t":274700,"v":48.2},{"s":30,"t":275000,"v":46.6},{"s":30,"t":275400,"v":49.0},{"s":30,"t":275800,"v":47.4},{"s":30,"t":276200,"v":49.6},{"s":30,"t":276600,"v":48.2},{"s":30,"t":277000,"v":50.4},{"s":30,"t":277400,"v":49.0},{"s":30,"t":277800,"v":51.0},{"s":30,"t":278200,"v":49.8},{"s":30,"t":278600,"v":51.6},{"s":30,"t":279000,"v":50.2},{"s":30,"t":279400,"v":51.8},{"s":30,"t":279800,"v":50.4},{"s":30,"t":280200,"v":51.6},{"s":30,"t":280600,"v":50.2},{"s":30,"t":281000,"v":51.8},{"s":30,"t":281400,"v":50.6},{"s":30,"t":281800,"v":52.0},{"s":30,"t":282200,"v":50.8},{"s":30,"t":282600,"v":51.8},{"s":30,"t":283000,"v":50.4},{"s":30,"t":283400,"v":51.4},{"s":30,"t":283800,"v":50.2},{"s":30,"t":284200,"v":51.2},{"s":30,"t":284600,"v":50.0},{"s":30,"t":285000,"v":51.4},{"s":30,"t":285400,"v":50.2},{"s":30,"t":285800,"v":51.6},{"s":30,"t":286200,"v":50.4},{"s":30,"t":286600,"v":51.2},{"s":30,"t":287000,"v":49.6},{"s":30,"t":287400,"v":50.0},{"s":30,"t":287800,"v":48.4},{"s":30,"t":288200,"v":49.2},{"s":30,"t":288600,"v":47.6},{"s":30,"t":289000,"v":48.4},{"s":30,"t":289400,"v":46.8},{"s":30,"t":289800,"v":47.6},{"s":30,"t":290200,"v":46.2},{"s":30,"t":290600,"v":47.0},{"s":30,"t":291000,"v":45.6},{"s":30,"t":291400,"v":46.6},{"s":30,"t":291800,"v":44.8},{"s":30,"t":292200,"v":46.4},{"s":30,"t":292600,"v":43.6},{"s":30,"t":293000,"v":46.6},{"s":30,"t":293300,"v":41.4},{"s":30,"t":293600,"v":46.0},{"s":30,"t":293900,"v":40.2},{"s":30,"t":294200,"v":45.6},{"s":30,"t":294500,"v":40.8},{"s":30,"t":294800,"v":45.0},{"s":30,"t":295100,"v":41.2},{"s":30,"t":295400,"v":44.6},{"s":30,"t":295700,"v":40.0},{"s":30,"t":296000,"v":43.0},
{"s":32,"t":292900,"v":40.6},{"s":32,"t":293100,"v":38.0},{"s":32,"t":293300,"v":41.6},{"s":32,"t":293500,"v":37.4},{"s":32,"t":293700,"v":42.4},{"s":32,"t":293900,"v":40.2},{"s":32,"t":294100,"v":44.6},{"s":32,"t":294400,"v":43.2},{"s":32,"t":294700,"v":46.8},{"s":32,"t":295000,"v":45.6},{"s":32,"t":295400,"v":46.8},{"s":32,"t":295800,"v":45.6},{"s":32,"t":296200,"v":47.6},{"s":32,"t":296600,"v":46.2},{"s":32,"t":297000,"v":48.2},{"s":32,"t":297400,"v":46.8},{"s":32,"t":297800,"v":48.6},{"s":32,"t":298200,"v":47.4},{"s":32,"t":298600,"v":49.2},{"s":32,"t":299000,"v":48.2},{"s":32,"t":299400,"v":50.2},{"s":32,"t":299800,"v":49.6},{"s":32,"t":300200,"v":51.2},{"s":32,"t":300600,"v":50.6},{"s":32,"t":301000,"v":52.0},{"s":32,"t":301400,"v":51.6},{"s":32,"t":301800,"v":52.8},{"s":32,"t":302200,"v":52.4},{"s":32,"t":302600,"v":53.4},{"s":32,"t":303000,"v":53.0},{"s":32,"t":303400,"v":53.9},{"s":32,"t":303800,"v":53.2},{"s":32,"t":304200,"v":53.6},{"s":32,"t":304600,"v":53.0},{"s":32,"t":305000,"v":53.2},{"s":32,"t":305400,"v":52.4},{"s":32,"t":305800,"v":52.6},{"s":32,"t":306200,"v":51.8},{"s":32,"t":306600,"v":52.0},{"s":32,"t":307000,"v":51.2},{"s":32,"t":307400,"v":51.4},{"s":32,"t":307800,"v":50.6},{"s":32,"t":308200,"v":50.8},{"s":32,"t":308600,"v":50.0},{"s":32,"t":309000,"v":50.2},{"s":32,"t":309400,"v":49.4},{"s":32,"t":309800,"v":49.2},{"s":32,"t":310200,"v":48.2},{"s":32,"t":310600,"v":48.2},{"s":32,"t":311000,"v":47.2},{"s":32,"t":311400,"v":47.0},{"s":32,"t":311800,"v":46.0},{"s":32,"t":312200,"v":46.4},{"s":32,"t":312300,"v":45.4}
]},
"mark":{"type":"line","strokeWidth":1.5,"clip":true},
"encoding":{
"x":{"field":"t","type":"quantitative","scale":{"domain":[227630,316630],"nice":false,"zero":false},"axis":{"title":"Time (s)","values":[230000,240000,250000,260000,270000,280000,290000,300000,310000],"format":"d","titlePadding":6}},
"y":{"field":"v","type":"quantitative","scale":{"domain":[2.03,54.94],"nice":false,"zero":false},"axis":{"title":"CNo dB Hz","values":[10,20,30,40,50],"titlePadding":8}},
"color":{"field":"s","type":"nominal","scale":{"domain":[3,4,6,8,9,10,11,14,18,23,24,25,26,27,28,30,32],"range":["#1f77b4","#ff7f0e","#2ca02c","#d62728","#9467bd","#8c564b","#e377c2","#7f7f7f","#bcbd22","#17becf","#1f77b4","#ff7f0e","#2ca02c","#d62728","#9467bd","#8c564b","#e377c2"]},
"legend":{"title":null,"orient":"none","legendX":797,"legendY":14,"padding":3,"strokeColor":"#cccccc","fillColor":"rgba(255,255,255,0.8)","cornerRadius":3,"symbolType":"M-0.8,0H2.4","symbolSize":324,"symbolStrokeWidth":1.2,"labelOffset":24,"rowPadding":3,"labelFont":"DejaVu Sans","labelFontSize":13,"labelColor":"black"}}
},
"config":{
"view":{"stroke":"black","strokeWidth":1},
"axis":{"domain":false,"grid":true,"gridColor":"#b0b0b0","gridWidth":0.8,"tickColor":"black","tickSize":5,"tickWidth":1,"labelFont":"DejaVu Sans","labelFontSize":13,"labelColor":"black","labelPadding":4,"titleFont":"DejaVu Sans","titleFontSize":13,"titleFontWeight":"normal","titleColor":"black"}
}
}
